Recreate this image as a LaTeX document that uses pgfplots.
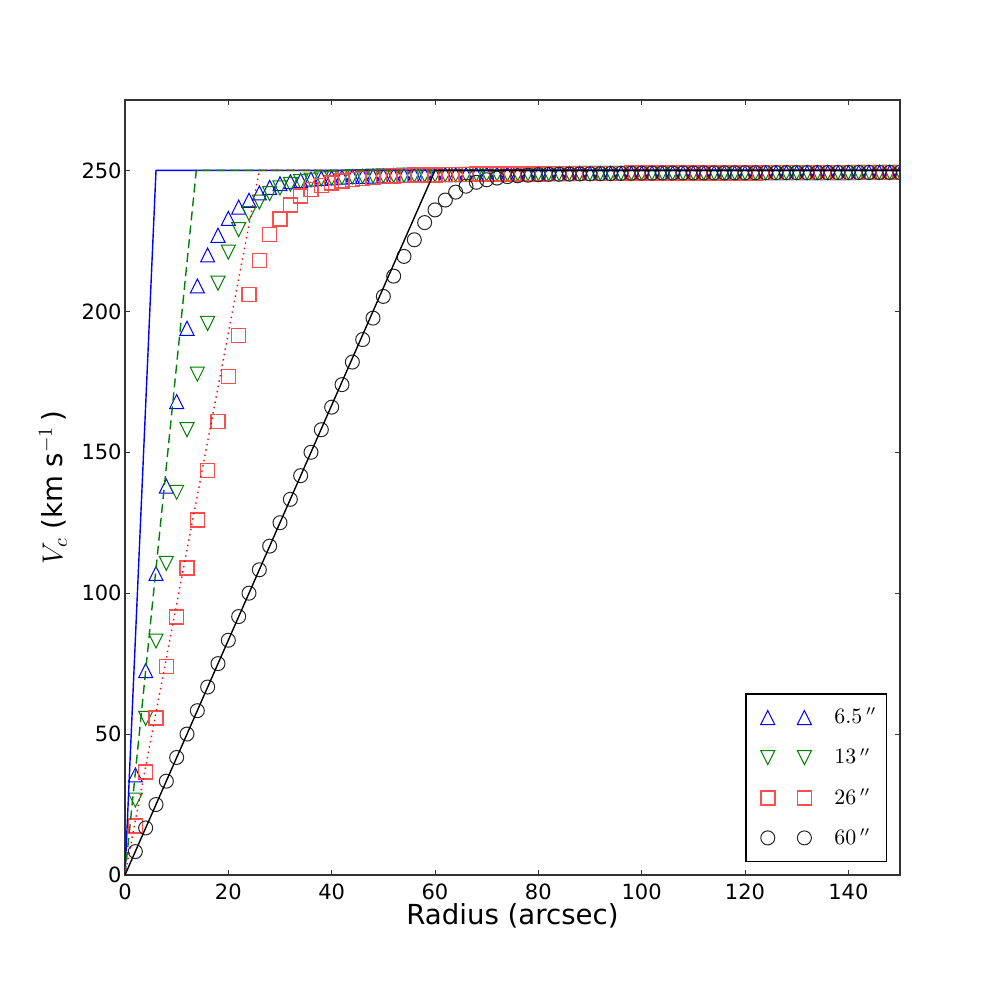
\documentclass[border=0pt]{standalone}
\usepackage{fontspec}
\setmainfont{DejaVu Sans}
\usepackage{pgfplots}
\usepackage{pgfplotstable}
\pgfplotsset{compat=1.18}
\pgfdeclareplotmark{mtriup}{%
  \pgfpathmoveto{\pgfqpoint{0pt}{\pgfplotmarksize}}%
  \pgfpathlineto{\pgfqpoint{-\pgfplotmarksize}{-\pgfplotmarksize}}%
  \pgfpathlineto{\pgfqpoint{\pgfplotmarksize}{-\pgfplotmarksize}}%
  \pgfpathclose\pgfusepathqstroke}
\pgfdeclareplotmark{mtridown}{%
  \pgfpathmoveto{\pgfqpoint{0pt}{-\pgfplotmarksize}}%
  \pgfpathlineto{\pgfqpoint{-\pgfplotmarksize}{\pgfplotmarksize}}%
  \pgfpathlineto{\pgfqpoint{\pgfplotmarksize}{\pgfplotmarksize}}%
  \pgfpathclose\pgfusepathqstroke}
\pgfdeclareplotmark{msq}{%
  \pgfpathmoveto{\pgfqpoint{-\pgfplotmarksize}{-\pgfplotmarksize}}%
  \pgfpathlineto{\pgfqpoint{\pgfplotmarksize}{-\pgfplotmarksize}}%
  \pgfpathlineto{\pgfqpoint{\pgfplotmarksize}{\pgfplotmarksize}}%
  \pgfpathlineto{\pgfqpoint{-\pgfplotmarksize}{\pgfplotmarksize}}%
  \pgfpathclose\pgfusepathqstroke}
\definecolor{mgreen}{rgb}{0,0.5,0}
\definecolor{msqred}{rgb}{1,0.3,0.3}

\pgfplotstableread{
x y
2 35.5
4 72.5
6 107
8 138
10 168
12 194
14 209
16 220
18 227
20 233
22 237
24 239.4
26 242
28 244
30 245.3
32 246
34 246.5
36 246.9
38 247.2
40 247.4
42 247.6
44 247.8
46 247.9
48 248.0
50 248.1
52 248.2
54 248.3
56 248.35
58 248.4
60 248.45
62 248.5
64 248.55
66 248.6
68 248.65
70 248.7
72 248.72
74 248.75
76 248.78
78 248.8
80 248.82
82 248.85
84 248.87
86 248.9
88 248.92
90 248.94
92 248.96
94 248.98
96 249.0
98 249.02
100 249.04
102 249.06
104 249.08
106 249.1
108 249.11
110 249.12
112 249.13
114 249.14
116 249.15
118 249.16
120 249.17
122 249.18
124 249.19
126 249.2
128 249.21
130 249.22
132 249.23
134 249.24
136 249.25
138 249.26
140 249.27
142 249.28
144 249.29
146 249.3
148 249.3
150 249.3
}\tabA

\pgfplotstableread{
x y
2 26.6
4 55.6
6 83
8 110.6
10 135.8
12 158
14 177.7
16 195.7
18 210
20 221
22 229
24 234.7
26 238.8
28 241.8
30 243.8
32 245.1
34 246
36 246.6
38 247
40 247.3
42 247.5
44 247.7
46 247.85
48 248
50 248.1
52 248.2
54 248.3
56 248.35
58 248.4
60 248.45
62 248.5
64 248.55
66 248.6
68 248.65
70 248.7
72 248.72
74 248.75
76 248.78
78 248.8
80 248.82
82 248.85
84 248.87
86 248.9
88 248.92
90 248.94
92 248.96
94 248.98
96 249.0
98 249.02
100 249.04
102 249.06
104 249.08
106 249.1
108 249.11
110 249.12
112 249.13
114 249.14
116 249.15
118 249.16
120 249.17
122 249.18
124 249.19
126 249.2
128 249.21
130 249.22
132 249.23
134 249.24
136 249.25
138 249.26
140 249.27
142 249.28
144 249.29
146 249.3
148 249.3
150 249.3
}\tabB

\pgfplotstableread{
x y
2 17.4
4 36.5
6 55.7
8 74
10 91.5
12 108.9
14 126
16 143.6
18 161
20 176.8
22 191.5
24 206
26 218
28 227.3
30 232.8
32 237.8
34 241
36 243.2
38 244.6
40 245.6
42 246.3
44 246.8
46 247.2
48 247.5
50 247.8
52 248
54 248.15
56 248.3
58 248.4
60 248.45
62 248.5
64 248.55
66 248.6
68 248.65
70 248.7
72 248.72
74 248.75
76 248.78
78 248.8
80 248.82
82 248.85
84 248.87
86 248.9
88 248.92
90 248.94
92 248.96
94 248.98
96 249.0
98 249.02
100 249.04
102 249.06
104 249.08
106 249.1
108 249.11
110 249.12
112 249.13
114 249.14
116 249.15
118 249.16
120 249.17
122 249.18
124 249.19
126 249.2
128 249.21
130 249.22
132 249.23
134 249.24
136 249.25
138 249.26
140 249.27
142 249.28
144 249.29
146 249.3
148 249.3
150 249.3
}\tabC

\pgfplotstableread{
x y
2 8.3
4 16.7
6 25
8 33.3
10 41.7
12 50
14 58.3
16 66.7
18 75
20 83.3
22 91.7
24 100
26 108.3
28 116.7
30 125
32 133.3
34 141.7
36 150
38 158
40 166
42 174
44 182
46 190
48 197.6
50 205.3
52 212.5
54 219.5
56 225.4
58 231.5
60 236
62 239.5
64 242.3
66 244.4
68 245.8
70 246.7
72 247.3
74 247.8
76 248.1
78 248.3
80 248.5
82 248.6
84 248.65
86 248.7
88 248.75
90 248.8
92 248.85
94 248.9
96 248.95
98 249.0
100 249.04
102 249.06
104 249.08
106 249.1
108 249.11
110 249.12
112 249.13
114 249.14
116 249.15
118 249.16
120 249.17
122 249.18
124 249.19
126 249.2
128 249.21
130 249.22
132 249.23
134 249.24
136 249.25
138 249.26
140 249.27
142 249.28
144 249.29
146 249.3
148 249.3
150 249.3
}\tabD

\begin{document}
\begin{tikzpicture}
\path[use as bounding box] (-62.5pt,-62.5pt) rectangle (437.5pt,437.5pt);
\begin{axis}[
  at={(0,0)}, anchor=south west,
  scale only axis, width=387.5pt, height=387.5pt,
  xmin=0, xmax=150, ymin=0, ymax=275,
  clip marker paths=true,
  xtick={0,20,...,140}, ytick={0,50,...,250},
  tick align=inside, xtick pos=both, ytick pos=both,
  major tick length=2.7pt,
  tick style={black!80, line width=0.5pt},
  axis line style={black!80, line width=0.75pt},
  /pgf/number format/assume math mode=true,
  ticklabel style={font=\fontsize{10.5}{12}\selectfont},
  xticklabel style={yshift=-1pt},
  yticklabel style={inner xsep=1.5pt},
  xlabel={Radius (arcsec)},
  ylabel={$V_c$\ (km s$^{-1}$\,)},
  label style={font=\fontsize{13.8}{16}\selectfont},
  xlabel style={at={(axis description cs:0.5,-0.0529)}, anchor=center},
  ylabel style={at={(axis description cs:-0.093,0.5)}, anchor=center},
  legend style={at={(1,0)}, anchor=south east, xshift=-6.5pt, yshift=6.5pt,
    draw=black, line width=0.75pt, font=\fontsize{10.5}{12}\selectfont,
    row sep=6.7pt, inner xsep=3pt, inner ysep=5pt,
    /tikz/every odd column/.style={column sep=9.5pt}},
  legend cell align=left,
  legend image code/.code={\path (-7.5pt,0pt); \draw[#1, only marks] plot coordinates {(0pt,0pt) (18.3pt,0pt)};},
  every axis plot/.append style={mark size=3.5pt},
]
\addplot[only marks, mark=mtriup, draw=blue, mark options={line width=0.5pt}] table {\tabA};
\addlegendentry{$6.5\,''$}
\addplot[only marks, mark=mtridown, draw=mgreen, mark options={line width=0.5pt}] table {\tabB};
\addlegendentry{$13\,''$}
\addplot[only marks, mark=msq, draw=msqred, mark options={line width=0.75pt, draw=msqred}] table {\tabC};
\addlegendentry{$26\,''$}
\addplot[only marks, mark=o, draw=black!85, mark options={line width=0.5pt}] table {\tabD};
\addlegendentry{$60\,''$}

\addplot[forget plot, blue, line width=0.7pt] coordinates {(0,0) (6,250) (150,250)};
\addplot[forget plot, mgreen, line width=0.7pt, dash pattern=on 4.5pt off 2.5pt] coordinates {(0,0) (13.8,250) (150,250)};
\addplot[forget plot, red, line width=0.7pt, dash pattern=on 0.7pt off 2pt] coordinates {(0,0) (26,250) (150,250)};
\addplot[forget plot, black, line width=0.7pt] coordinates {(0,0) (60,250) (150,250)};
\end{axis}
\end{tikzpicture}
\end{document}
